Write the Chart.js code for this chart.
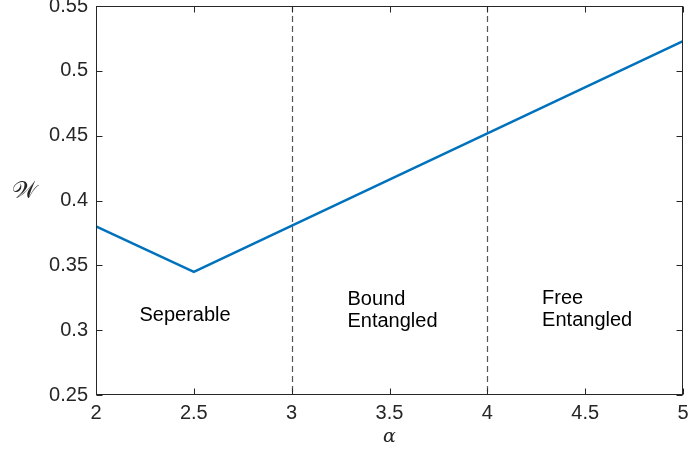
<!DOCTYPE html>
<html>
<head>
<meta charset="utf-8">
<script src="https://cdn.jsdelivr.net/npm/chart.js@4/dist/chart.umd.min.js"></script>
<style>
  html, body { margin: 0; padding: 0; background: #ffffff; }
  #wrap { width: 688px; height: 452px; }
</style>
</head>
<body>
<div id="wrap"><canvas id="c" width="688" height="452"></canvas></div>
<script>
// Witness value W as a function of the mixing parameter alpha
const alphaValues = [2, 2.5, 5];
const witnessValues = [0.38, 0.345, 0.523];

// Axis ticks
const xTickValues = [2, 2.5, 3, 3.5, 4, 4.5, 5];
const yTickValues = [0.25, 0.3, 0.35, 0.4, 0.45, 0.5, 0.55];

// Region boundaries and region names
const regionBoundaries = [3, 4];
const regionNames = [["Seperable"], ["Bound", "Entangled"], ["Free", "Entangled"]];

const TEXT = '#262626';
const FONT = '"Liberation Sans", Arial, Helvetica, sans-serif';
const FONT_SIZE = 20;

const points = alphaValues.map((a, i) => ({ x: a, y: witnessValues[i] }));

// Tick labels may overhang the plot box; keep the box where it is
function noOverhang(scale) {
  scale.paddingTop = 0;
  scale.paddingBottom = 0;
  scale.paddingLeft = 0;
  scale.paddingRight = 0;
}

// Boxed axes with inward tick marks, boundary lines and region captions
const decorations = {
  id: 'decorations',
  beforeDatasetsDraw(chart) {
    const { ctx, chartArea: ca, scales: { x } } = chart;
    ctx.save();
    ctx.strokeStyle = '#555555';
    ctx.lineWidth = 1.2;
    ctx.setLineDash([6, 4]);
    regionBoundaries.forEach(b => {
      const px = Math.round(x.getPixelForValue(b)) + 0.5;
      ctx.beginPath();
      ctx.moveTo(px, ca.top);
      ctx.lineTo(px, ca.bottom);
      ctx.stroke();
    });
    ctx.restore();
  },
  afterDatasetsDraw(chart) {
    const { ctx, chartArea: ca, scales: { x, y } } = chart;
    ctx.save();
    // box
    ctx.strokeStyle = TEXT;
    ctx.lineWidth = 1;
    const L = Math.round(ca.left) + 0.5, R = Math.round(ca.right) - 0.5;
    const T = Math.round(ca.top) + 0.5, B = Math.round(ca.bottom) - 0.5;
    ctx.strokeRect(L, T, R - L, B - T);
    // inward ticks
    const tl = 6;
    ctx.beginPath();
    xTickValues.forEach(v => {
      const px = Math.round(x.getPixelForValue(v)) + 0.5;
      ctx.moveTo(px, B); ctx.lineTo(px, B - tl);
      ctx.moveTo(px, T); ctx.lineTo(px, T + tl);
    });
    yTickValues.forEach(v => {
      const py = Math.round(y.getPixelForValue(v)) + 0.5;
      ctx.moveTo(L, py); ctx.lineTo(L + tl, py);
      ctx.moveTo(R, py); ctx.lineTo(R - tl, py);
    });
    ctx.stroke();

    // region captions
    ctx.fillStyle = '#000000';
    ctx.font = FONT_SIZE + 'px ' + FONT;
    ctx.textBaseline = 'middle';
    const captions = [
      { lines: regionNames[0], x: 2.455, y: [0.3115], align: 'center' },
      { lines: regionNames[1], x: 3.285, y: [0.3235, 0.3065], align: 'left' },
      { lines: regionNames[2], x: 4.28, y: [0.3242, 0.3073], align: 'left' }
    ];
    captions.forEach(c => {
      ctx.textAlign = c.align;
      c.lines.forEach((t, i) => {
        ctx.fillText(t, x.getPixelForValue(c.x), y.getPixelForValue(c.y[i]));
      });
    });

    // axis titles
    ctx.fillStyle = TEXT;
    ctx.textAlign = 'center';
    ctx.font = 'italic 19px "DejaVu Serif", "Liberation Serif", serif';
    ctx.fillText('\u03B1', (ca.left + ca.right) / 2, 437);
    ctx.font = '24px "DejaVu Serif", "Noto Sans", "Liberation Serif", serif';
    ctx.fillText('\uD835\uDCB2', 24, 192);
    ctx.restore();
  }
};

new Chart(document.getElementById('c'), {
  type: 'line',
  data: {
    datasets: [{
      data: points,
      borderColor: '#0072BD',
      borderWidth: 2.5,
      pointRadius: 0,
      fill: false,
      tension: 0
    }]
  },
  options: {
    responsive: false,
    animation: false,
    devicePixelRatio: 1,
    layout: { padding: { top: 6, right: 5, left: 0, bottom: 0 } },
    plugins: { legend: { display: false }, tooltip: { enabled: false } },
    scales: {
      x: {
        type: 'linear',
        min: 2, max: 5,
        grid: { display: false, drawTicks: false },
        border: { display: false },
        afterBuildTicks(scale) { scale.ticks = xTickValues.map(v => ({ value: v })); },
        afterFit(scale) { scale.height = 57; noOverhang(scale); },
        ticks: {
          padding: 6,
          color: TEXT,
          font: { family: FONT, size: FONT_SIZE },
          maxRotation: 0,
          callback: v => String(Number(v.toFixed(2)))
        }
      },
      y: {
        type: 'linear',
        min: 0.25, max: 0.55,
        grid: { display: false, drawTicks: false },
        border: { display: false },
        afterBuildTicks(scale) { scale.ticks = yTickValues.map(v => ({ value: v })); },
        afterFit(scale) { scale.width = 96; noOverhang(scale); },
        ticks: {
          padding: 8,
          color: TEXT,
          font: { family: FONT, size: FONT_SIZE },
          callback: v => String(Number(v.toFixed(2)))
        }
      }
    }
  },
  plugins: [decorations]
});
</script>
</body>
</html>
